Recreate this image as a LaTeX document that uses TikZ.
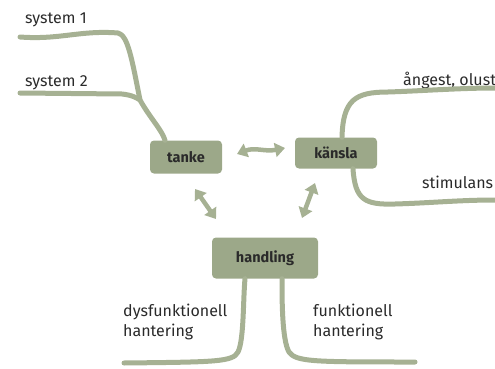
\documentclass[tikz,border=0pt]{standalone}
\usepackage{fontspec}
\setmainfont{Fira Sans}
\usetikzlibrary{arrows.meta}
\definecolor{branch}{HTML}{A6B193}
\definecolor{boxfill}{HTML}{9CA889}
\definecolor{txt}{HTML}{2A2A2A}
\tikzset{
  branchline/.style={draw=branch, line width=5pt, line cap=round, line join=round},
  topicbox/.style={fill=boxfill, rounded corners=4pt, font=\fontsize{14.5}{16}\selectfont\bfseries, text=txt, inner sep=0pt},
  lbl/.style={font=\fontsize{16}{20}\selectfont, text=txt, anchor=base west, inner sep=0pt, align=left},
  dblarrow/.style={draw=branch, line width=4.5pt, {Triangle[length=10pt,width=14pt]}-{Triangle[length=10pt,width=14pt]}}
}
\begin{document}
\begin{tikzpicture}[x=1pt,y=-1pt]
\useasboundingbox (0,0) rectangle (495,369);
% boxes
\node[topicbox, minimum width=72pt, minimum height=33pt] (tanke) at (186,157) {tanke};
\node[topicbox, minimum width=82pt, minimum height=31pt] (kansla) at (336,153) {känsla};
\node[topicbox, minimum width=106pt, minimum height=41pt] (handling) at (265,258) {handling};
% labels
\node[lbl] (s1) at (25,24) {system 1};
\node[lbl] (s2) at (25,86) {system 2};
\node[lbl] (ang) at (403,85) {ångest, olust};
\node[lbl] (stim) at (422,188) {stimulans};
\node[lbl] (dys) at (123,336) {dysfunktionell\\hantering};
\node[lbl] (fun) at (313,336) {funktionell\\hantering};
% branch coordinates
\coordinate (s1end) at (20,37);
\coordinate (s2end) at (20,93);
\coordinate (angend) at (495,88);
\coordinate (stimend) at (495,200);
\coordinate (dysend) at (124,363);
\coordinate (funend) at (415,362);
\coordinate (join) at (140,100);
% branches
\path[branchline] (s1end) .. controls (60,40) and (80,30) .. (118,33)
   .. controls (128,35) and (132,60) .. (join)
   .. controls (150,118) and (162,130) .. ([xshift=-21pt]tanke.north);
\path[branchline] (s2end) -- (122,94) .. controls (132,95) and (137,98) .. (join);
\path[branchline] ([xshift=6pt]kansla.north) .. controls (343,100) and (355,92) .. (388,92)
   .. controls (420,91) and (460,88) .. (angend);
\path[branchline] ([xshift=17pt]kansla.south) .. controls (355,200) and (365,205) .. (395,204)
   .. controls (430,203) and (460,200) .. (stimend);
\path[branchline] ([xshift=-20pt]handling.south) .. controls (243,300) and (244,340) .. (238,352)
   .. controls (233,362) and (215,362) .. (dysend);
\path[branchline] ([xshift=17pt]handling.south) .. controls (282,300) and (282,340) .. (289,352)
   .. controls (296,362) and (315,362) .. (funend);
% double arrows
\coordinate (a1) at (237,154);
\coordinate (a2) at (285,148);
\coordinate (b1) at (195,189);
\coordinate (b2) at (216,219);
\coordinate (c1) at (315,183);
\coordinate (c2) at (302,218);
\draw[dblarrow] (a1) .. controls (255,147) and (265,152) .. (a2);
\draw[dblarrow] (b1) -- (b2);
\draw[dblarrow] (c1) -- (c2);
\end{tikzpicture}
\end{document}
